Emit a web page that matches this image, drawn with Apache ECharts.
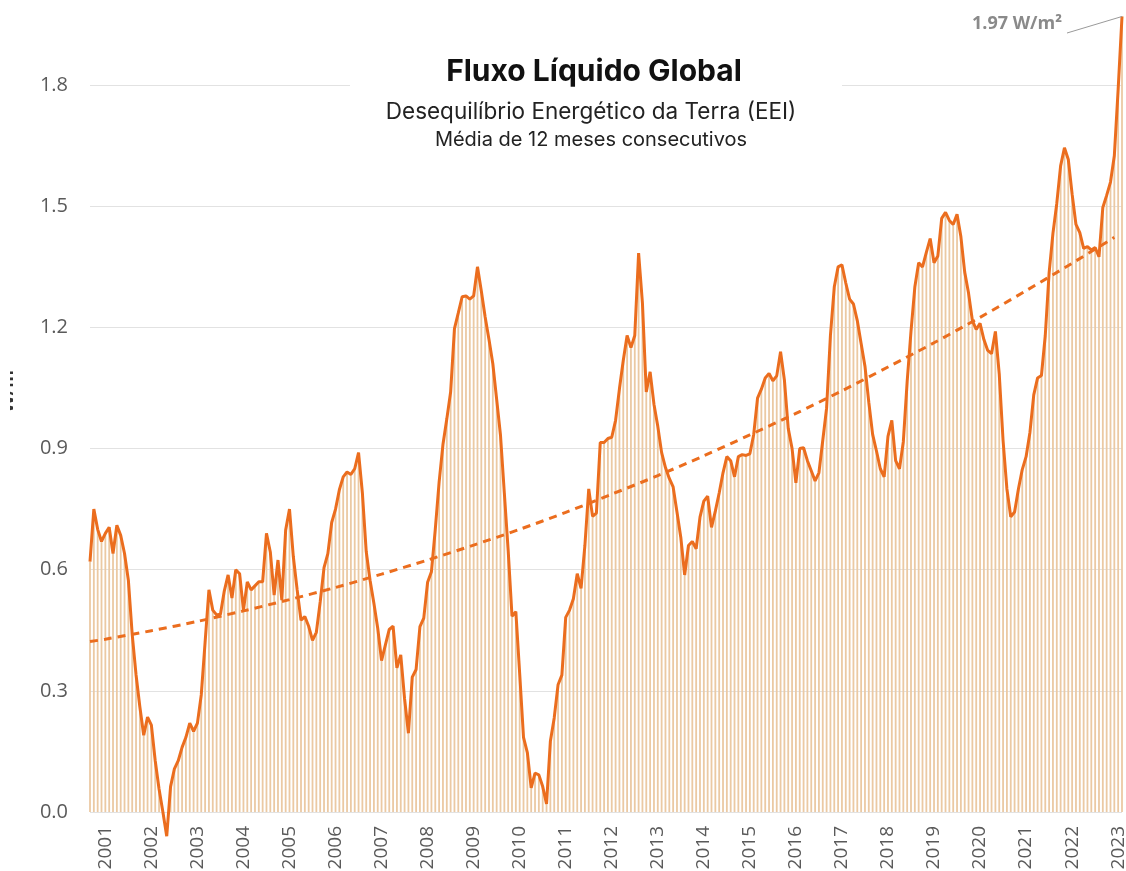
<!DOCTYPE html>
<html>
<head>
<meta charset="utf-8">
<script src="https://cdn.jsdelivr.net/npm/echarts@6/dist/echarts.min.js"></script>
<style>
  html, body { margin: 0; padding: 0; background: #ffffff; }
  #chart { width: 1126px; height: 871px; }
</style>
</head>
<body>
<div id="chart"></div>
<script>
// Monthly series, 12-month running mean of the net flux (W/m²), starting Sep 2000
const startYear = 2000;
const startMonth = 9;

const eei = [
  0.62, 0.75, 0.70, 0.67, 0.69, 0.705, 0.64, 0.71, 0.685, 0.64, 0.574, 0.44,
  0.34, 0.26, 0.19, 0.235, 0.215, 0.127, 0.057, 0.0, -0.06, 0.063, 0.107, 0.127,
  0.16, 0.185, 0.22, 0.20, 0.22, 0.29, 0.42, 0.55, 0.50, 0.488, 0.49, 0.547,
  0.587, 0.53, 0.60, 0.59, 0.50, 0.57, 0.55, 0.56, 0.57, 0.57, 0.69, 0.644,
  0.537, 0.624, 0.525, 0.698, 0.75, 0.632, 0.55, 0.475, 0.484, 0.46, 0.425, 0.445,
  0.52, 0.605, 0.64, 0.717, 0.75, 0.798, 0.83, 0.842, 0.836, 0.85, 0.89, 0.79,
  0.645, 0.574, 0.517, 0.455, 0.375, 0.414, 0.452, 0.46, 0.357, 0.389, 0.28, 0.195,
  0.334, 0.353, 0.459, 0.48, 0.569, 0.595, 0.70, 0.817, 0.91, 0.973, 1.04, 1.197,
  1.236, 1.276, 1.278, 1.27, 1.278, 1.35, 1.29, 1.226, 1.17, 1.11, 1.022, 0.933,
  0.79, 0.648, 0.485, 0.496, 0.343, 0.185, 0.147, 0.06, 0.096, 0.092, 0.063, 0.02,
  0.175, 0.233, 0.315, 0.339, 0.482, 0.50, 0.528, 0.59, 0.554, 0.66, 0.80, 0.732,
  0.74, 0.915, 0.915, 0.925, 0.928, 0.97, 1.048, 1.118, 1.18, 1.15, 1.18, 1.384,
  1.26, 1.04, 1.09, 1.01, 0.955, 0.89, 0.853, 0.826, 0.805, 0.743, 0.68, 0.587,
  0.66, 0.67, 0.652, 0.73, 0.77, 0.782, 0.705, 0.745, 0.79, 0.84, 0.88, 0.87,
  0.83, 0.88, 0.885, 0.883, 0.887, 0.935, 1.025, 1.047, 1.075, 1.086, 1.068, 1.08,
  1.14, 1.07, 0.95, 0.90, 0.815, 0.90, 0.902, 0.87, 0.845, 0.82, 0.84, 0.92,
  1.00, 1.18, 1.30, 1.35, 1.355, 1.31, 1.27, 1.258, 1.217, 1.16, 1.104, 1.015,
  0.935, 0.894, 0.85, 0.83, 0.93, 0.97, 0.87, 0.85, 0.917, 1.066, 1.19, 1.30,
  1.36, 1.35, 1.386, 1.42, 1.36, 1.377, 1.47, 1.485, 1.465, 1.455, 1.48, 1.425,
  1.337, 1.285, 1.217, 1.195, 1.21, 1.17, 1.143, 1.135, 1.19, 1.085, 0.92, 0.80,
  0.731, 0.743, 0.80, 0.848, 0.88, 0.94, 1.033, 1.075, 1.081, 1.18, 1.335, 1.433,
  1.507, 1.60, 1.645, 1.616, 1.53, 1.455, 1.435, 1.396, 1.40, 1.392, 1.398, 1.375,
  1.497, 1.527, 1.56, 1.625, 1.79, 1.97
];

// Trend curve, read at its knots
const trendMonths = ['2000-09', '2001-01', '2002-01', '2003-01', '2004-01', '2005-01', '2006-01',
  '2007-01', '2008-01', '2009-01', '2010-01', '2011-01', '2012-01', '2013-01', '2014-01',
  '2015-01', '2016-01', '2017-01', '2018-01', '2019-01', '2020-01', '2021-01', '2022-01', '2022-12'];
const trendValues = [0.422, 0.428, 0.449, 0.472, 0.498, 0.526, 0.556,
  0.589, 0.624, 0.661, 0.700, 0.742, 0.787, 0.833, 0.882,
  0.934, 0.987, 1.043, 1.102, 1.162, 1.225, 1.291, 1.359, 1.423];

const yearLabels = ['2001', '2002', '2003', '2004', '2005', '2006', '2007', '2008', '2009', '2010',
  '2011', '2012', '2013', '2014', '2015', '2016', '2017', '2018', '2019', '2020', '2021', '2022', '2023'];

const yMin = 0, yMax = 2.1, yStep = 0.3;

// month category names "YYYY-MM"
const months = eei.map((_, i) => {
  const m = startMonth - 1 + i;
  return (startYear + Math.floor(m / 12)) + '-' + String(m % 12 + 1).padStart(2, '0');
});

const trendByMonth = {};
trendMonths.forEach((m, k) => { trendByMonth[m] = trendValues[k]; });
const trendData = months.map(m => (m in trendByMonth ? trendByMonth[m] : null));

const last = eei.length - 1;

const ORANGE = '#eb6d1e';
const FONT = "'Open Sans', sans-serif";
const HEAD_FONT = "Inter, 'Open Sans', sans-serif";

const chart = echarts.init(document.getElementById('chart'), null, { renderer: 'canvas' });

chart.setOption({
  animation: false,
  backgroundColor: '#ffffff',
  grid: { left: 90, right: 4, top: -36, bottom: 59, containLabel: false, outerBoundsMode: 'none' },
  xAxis: {
    type: 'category',
    data: months,
    boundaryGap: false,
    axisLine: { show: false },
    axisTick: { show: false },
    splitLine: { show: false },
    axisLabel: {
      rotate: 90,
      margin: 14,
      fontSize: 19,
      color: '#5a5a5a',
      fontFamily: FONT,
      interval: (idx, val) => val.endsWith('-01') && yearLabels.includes(val.slice(0, 4)),
      formatter: val => val.slice(0, 4)
    }
  },
  yAxis: {
    type: 'value',
    min: yMin,
    max: yMax,
    interval: yStep,
    name: 'W/m²',
    nameLocation: 'middle',
    nameRotate: 90,
    nameGap: 73,
    nameTextStyle: { fontSize: 18, color: '#333', fontFamily: FONT, fontWeight: 'bold' },
    axisLine: { show: false },
    axisTick: { show: false },
    axisLabel: {
      margin: 22,
      fontSize: 20,
      color: '#5a5a5a',
      fontFamily: FONT,
      formatter: v => v.toFixed(1)
    },
    splitLine: { lineStyle: { color: '#e2e2e2', width: 1 } }
  },
  series: [
    {
      name: 'barras',
      type: 'bar',
      data: eei,
      barWidth: 1.8,
      itemStyle: { color: '#ebc9a3' },
      silent: true,
      z: 1
    },
    {
      name: 'EEI',
      type: 'line',
      data: eei,
      symbol: 'none',
      clip: false,
      lineStyle: { color: ORANGE, width: 3 },
      itemStyle: { color: ORANGE },
      z: 3,
      endLabel: {
        show: true,
        align: 'right',
        distance: 0,
        offset: [-60, 7],
        formatter: p => p.value.toFixed(2) + ' W/m²',
        color: '#8a8a8a',
        fontFamily: FONT,
        fontWeight: 'bold',
        fontSize: 18
      },
      markLine: {
        silent: true,
        symbol: ['none', 'none'],
        label: { show: false },
        lineStyle: { color: '#9a9a9a', width: 1, type: 'solid' },
        data: [[{ coord: [months[last], eei[last]] }, { x: 1067, y: 33 }]]
      }
    },
    {
      name: 'tendência',
      type: 'line',
      data: trendData,
      connectNulls: true,
      smooth: 0.3,
      symbol: 'none',
      lineStyle: { color: ORANGE, width: 3, type: [8, 6] },
      z: 2
    }
  ],
  graphic: [
    // left margin strip
    { type: 'rect', shape: { x: 0, y: 0, width: 10, height: 871 }, style: { fill: '#ffffff' }, z: 100 },
    // title panel
    { type: 'rect', shape: { x: 350, y: 50, width: 492, height: 108 }, style: { fill: '#ffffff' }, z: 100 },
    {
      type: 'text', x: 594, y: 72, z: 101,
      style: { text: 'Fluxo Líquido Global', fill: '#111', font: 'bold 30px ' + HEAD_FONT,
        textAlign: 'center', textVerticalAlign: 'middle' }
    },
    {
      type: 'text', x: 591, y: 112, z: 101,
      style: { text: 'Desequilíbrio Energético da Terra (EEI)', fill: '#222', font: '22.5px ' + HEAD_FONT,
        textAlign: 'center', textVerticalAlign: 'middle' }
    },
    {
      type: 'text', x: 591, y: 140, z: 101,
      style: { text: 'Média de 12 meses consecutivos', fill: '#222', font: '20px ' + HEAD_FONT,
        textAlign: 'center', textVerticalAlign: 'middle' }
    }
  ]
});
</script>
</body>
</html>
